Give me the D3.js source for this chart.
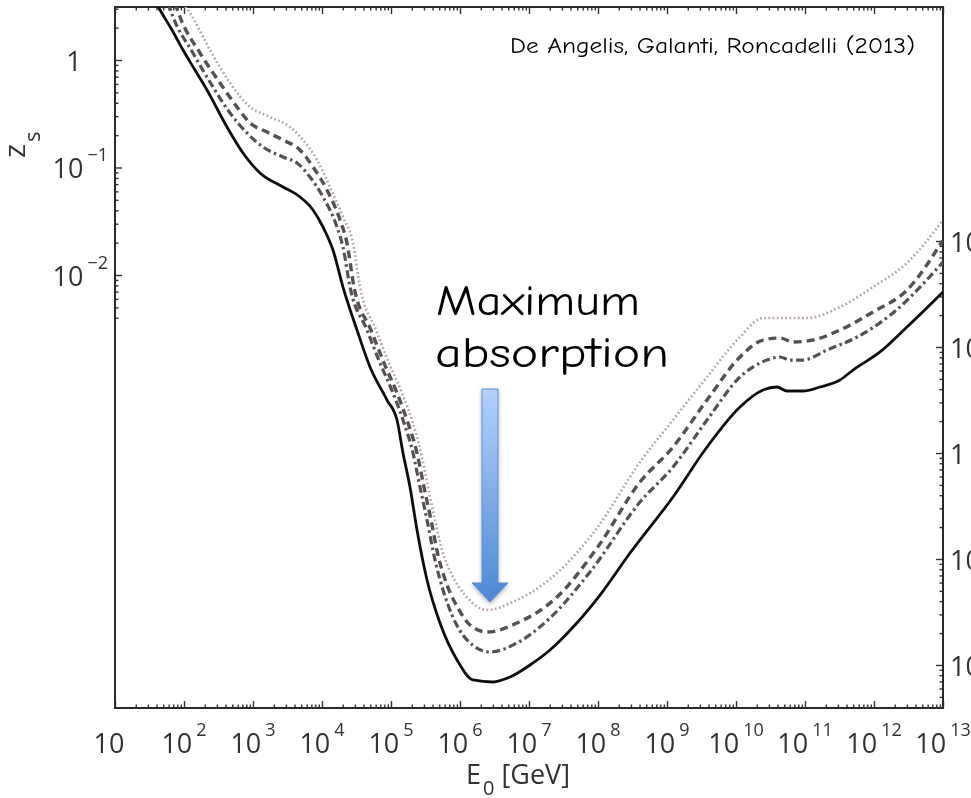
<!DOCTYPE html>
<html>
<head>
<meta charset="utf-8">
<script src="https://cdn.jsdelivr.net/npm/d3@7"></script>
<style>
  html, body { margin: 0; padding: 0; background: #fff; overflow: hidden; }
  svg { display: block; }
</style>
</head>
<body>
<svg id="chart" width="971" height="798"></svg>
<script>
// Each curve point is [log10(E0 / GeV), log10(z_s)]
const solidCurve = [
  [1.594,0.530],[1.652,0.465],[1.826,0.279],[1.986,0.093],[2.159,-0.093],[2.333,-0.279],
  [2.623,-0.623],[2.855,-0.865],[3.101,-1.051],[3.435,-1.181],[3.681,-1.274],[3.870,-1.395],
  [4.014,-1.553],[4.159,-1.767],[4.304,-2.112],[4.507,-2.512],[4.696,-2.856],[4.942,-3.163],
  [5.087,-3.349],[5.174,-3.656],[5.275,-3.972],[5.377,-4.372],[5.522,-4.837],[5.710,-5.237],
  [5.957,-5.581],[6.188,-5.767],[6.478,-5.786],[6.725,-5.740],[7.014,-5.628],[7.304,-5.488],
  [7.667,-5.256],[8.029,-4.977],[8.464,-4.586],[9.087,-4.065],[9.580,-3.600],[10.058,-3.228],
  [10.391,-3.070],[10.594,-3.042],[10.739,-3.079],[10.971,-3.079],[11.217,-3.042],[11.507,-2.977],
  [11.696,-2.884],[12.087,-2.716],[12.478,-2.484],[13.0,-2.158]
];
const dashDotCurve = [
  [1.768,0.530],[1.841,0.400],[2.130,0.065],[2.420,-0.251],[2.667,-0.493],[2.913,-0.679],
  [3.145,-0.809],[3.435,-0.902],[3.638,-0.958],[3.826,-1.088],[4.014,-1.274],[4.217,-1.553],
  [4.304,-1.740],[4.406,-2.112],[4.652,-2.512],[4.841,-2.819],[5.029,-3.098],[5.174,-3.349],
  [5.319,-3.656],[5.420,-3.972],[5.522,-4.279],[5.638,-4.651],[5.754,-4.930],[5.884,-5.163],
  [6.101,-5.395],[6.435,-5.507],[6.826,-5.423],[7.304,-5.191],[7.884,-4.763],[8.609,-4.112],
  [9.087,-3.786],[9.580,-3.349],[10.058,-2.949],[10.449,-2.791],[10.638,-2.763],[10.783,-2.791],
  [10.971,-2.791],[11.319,-2.698],[11.754,-2.577],[12.275,-2.353],[13.0,-1.879]
];
const dashedCurve = [
  [1.870,0.530],[1.942,0.400],[2.232,0.065],[2.522,-0.214],[2.768,-0.437],[2.957,-0.586],
  [3.203,-0.670],[3.435,-0.744],[3.681,-0.837],[3.870,-0.995],[4.072,-1.209],[4.261,-1.488],
  [4.362,-1.702],[4.464,-2.112],[4.710,-2.512],[4.899,-2.819],[5.087,-3.098],[5.232,-3.349],
  [5.377,-3.656],[5.478,-3.972],[5.580,-4.279],[5.681,-4.605],[5.812,-4.884],[5.971,-5.098],
  [6.145,-5.256],[6.391,-5.321],[6.826,-5.237],[7.406,-4.995],[7.986,-4.540],[8.609,-3.926],
  [9.087,-3.600],[9.580,-3.163],[10.058,-2.763],[10.391,-2.605],[10.638,-2.586],[10.826,-2.623],
  [11.116,-2.605],[11.507,-2.512],[11.986,-2.344],[12.478,-2.140],[13.0,-1.674]
];
const dottedCurve = [
  [1.986,0.530],[2.087,0.437],[2.377,0.093],[2.667,-0.214],[2.957,-0.437],[3.246,-0.530],
  [3.536,-0.623],[3.725,-0.744],[3.928,-0.930],[4.116,-1.181],[4.304,-1.460],[4.449,-1.702],
  [4.551,-2.112],[4.783,-2.512],[4.971,-2.819],[5.159,-3.098],[5.304,-3.349],[5.435,-3.656],
  [5.536,-3.972],[5.638,-4.279],[5.739,-4.558],[5.884,-4.791],[6.072,-4.977],[6.391,-5.116],
  [6.826,-5.023],[7.406,-4.772],[7.986,-4.353],[8.609,-3.740],[9.087,-3.349],[9.580,-2.949],
  [10.058,-2.577],[10.391,-2.400],[11.029,-2.400],[11.507,-2.298],[11.986,-2.112],[12.478,-1.888],
  [13.0,-1.488]
];

// Axis ranges and tick labels
const energyDomain = [10, 1e13];
const zDomain = [Math.pow(10, -6.028), Math.pow(10, 0.493)];
const distDomain = [Math.pow(10, -2.406), Math.pow(10, 4.208)];
const energyTickExps = [1,2,3,4,5,6,7,8,9,10,11,12,13];
const zTickExps = [0, -1, -2];
const zMinorRange = [4e-3, 3];
const distTickExps = [2, 1, 0, -1, -2];
const distMinorRange = [4e-3, 100];

(function draw() {
  const svg = d3.select("#chart");
  const pL = 115, pR = 943, pT = 7, pB = 708;

  const x = d3.scaleLog().domain(energyDomain).range([pL, pR]);
  const y = d3.scaleLog().domain(zDomain).range([pB, pT]);
  const yR = d3.scaleLog().domain(distDomain).range([pB, pT]);

  const defs = svg.append("defs");
  defs.append("clipPath").attr("id", "plotClip")
    .append("rect").attr("x", pL).attr("y", pT).attr("width", pR - pL).attr("height", pB - pT);
  defs.append("filter").attr("id", "soft").attr("x", "-5%").attr("y", "-5%").attr("width", "110%").attr("height", "110%")
    .append("feGaussianBlur").attr("stdDeviation", 0.5);
  const grad = defs.append("linearGradient").attr("id", "arrowGrad")
    .attr("x1", 0).attr("y1", 0).attr("x2", 0).attr("y2", 1);
  grad.append("stop").attr("offset", "0%").attr("stop-color", "#b3d1fb");
  grad.append("stop").attr("offset", "100%").attr("stop-color", "#4d88d4");
  const shadow = defs.append("filter").attr("id", "arrowShadow")
    .attr("x", "-50%").attr("y", "-20%").attr("width", "200%").attr("height", "140%");
  shadow.append("feDropShadow").attr("dx", 0).attr("dy", 2).attr("stdDeviation", 2)
    .attr("flood-color", "#000").attr("flood-opacity", 0.3);

  const fig = svg.append("g").attr("filter", "url(#soft)");

  // minor tick values for a log range
  function minorTicks(lo, hi) {
    const out = [];
    for (let d = Math.floor(Math.log10(lo)) - 1; d <= Math.ceil(Math.log10(hi)); d++) {
      for (let k = 2; k <= 9; k++) {
        const v = k * Math.pow(10, d);
        if (v >= lo * 0.999 && v <= hi * 1.001) out.push(v);
      }
    }
    return out;
  }

  const energyMajors = energyTickExps.map(e => Math.pow(10, e));
  const energyMinors = minorTicks(10, 1e13);
  const zMajors = zTickExps.map(e => Math.pow(10, e));
  const zMinors = minorTicks(zMinorRange[0], zMinorRange[1]);
  const distMajors = distTickExps.map(e => Math.pow(10, e));
  const distMinors = minorTicks(distMinorRange[0], distMinorRange[1]);

  function styleAxis(g) {
    g.select(".domain").remove();
    g.selectAll("line").attr("stroke", "#333").attr("stroke-width", 1.4);
    g.selectAll("text").remove();
  }

  // bottom and top ticks
  fig.append("g").attr("transform", `translate(0,${pB})`)
    .call(d3.axisBottom(x).tickValues(energyMajors).tickSize(-7).tickFormat("")).call(styleAxis);
  fig.append("g").attr("transform", `translate(0,${pB})`)
    .call(d3.axisBottom(x).tickValues(energyMinors).tickSize(-3.5).tickFormat("")).call(styleAxis);
  fig.append("g").attr("transform", `translate(0,${pT})`)
    .call(d3.axisTop(x).tickValues(energyMajors).tickSize(-7).tickFormat("")).call(styleAxis);
  fig.append("g").attr("transform", `translate(0,${pT})`)
    .call(d3.axisTop(x).tickValues(energyMinors).tickSize(-3.5).tickFormat("")).call(styleAxis);
  // left (z_s) ticks
  fig.append("g").attr("transform", `translate(${pL},0)`)
    .call(d3.axisLeft(y).tickValues(zMajors).tickSize(-7).tickFormat("")).call(styleAxis);
  fig.append("g").attr("transform", `translate(${pL},0)`)
    .call(d3.axisLeft(y).tickValues(zMinors).tickSize(-3.5).tickFormat("")).call(styleAxis);
  // right (distance) ticks
  fig.append("g").attr("transform", `translate(${pR},0)`)
    .call(d3.axisRight(yR).tickValues(distMajors).tickSize(-7).tickFormat("")).call(styleAxis);
  fig.append("g").attr("transform", `translate(${pR},0)`)
    .call(d3.axisRight(yR).tickValues(distMinors).tickSize(-3.5).tickFormat("")).call(styleAxis);

  // frame
  fig.append("rect").attr("x", pL).attr("y", pT).attr("width", pR - pL).attr("height", pB - pT)
    .attr("fill", "none").attr("stroke", "#2a2a2a").attr("stroke-width", 2);

  // curves
  const line = d3.line()
    .x(d => x(Math.pow(10, d[0])))
    .y(d => y(Math.pow(10, d[1])))
    .curve(d3.curveMonotoneX);
  const curves = fig.append("g").attr("clip-path", "url(#plotClip)").attr("fill", "none");
  curves.append("path").datum(dottedCurve).attr("d", line)
    .attr("stroke", "#bba9a9").attr("stroke-width", 2.7).attr("stroke-dasharray", "1.8,2.4");
  curves.append("path").datum(dashedCurve).attr("d", line)
    .attr("stroke", "#575151").attr("stroke-width", 3.4).attr("stroke-dasharray", "8,5");
  curves.append("path").datum(dashDotCurve).attr("d", line)
    .attr("stroke", "#575151").attr("stroke-width", 3.2).attr("stroke-dasharray", "8,3.5,2.5,3.5");
  curves.append("path").datum(solidCurve).attr("d", line)
    .attr("stroke", "#111").attr("stroke-width", 2.8).attr("stroke-linejoin", "round");

  // tick labels
  const labelFont = "'Open Sans', 'Noto Sans', sans-serif";
  function powerLabel(sel, e) {
    if (e === 0) { sel.text("1"); return; }
    sel.append("tspan").text("10");
    if (e !== 1) {
      sel.append("tspan").attr("dx", 4).attr("dy", -17).attr("font-size", 18)
        .text(String(e).replace("-", "\u2212"));
    }
  }
  const xLabels = fig.append("g").attr("font-family", labelFont).attr("font-size", 27).attr("fill", "#333");
  energyTickExps.forEach(e => {
    const t = xLabels.append("text")
      .attr("x", x(Math.pow(10, e)) + (e === 1 ? -6 : 0))
      .attr("y", 753).attr("text-anchor", "middle");
    powerLabel(t, e);
  });
  const yLabels = fig.append("g").attr("font-family", labelFont).attr("font-size", 27).attr("fill", "#333");
  zTickExps.forEach(e => {
    const t = yLabels.append("text")
      .attr("x", e === 0 ? 74 : 108)
      .attr("y", y(Math.pow(10, e)) + 11)
      .attr("text-anchor", e === 0 ? "middle" : "end");
    powerLabel(t, e);
  });
  const rLabels = fig.append("g").attr("font-family", labelFont).attr("font-size", 27).attr("fill", "#333");
  distTickExps.forEach(e => {
    const t = rLabels.append("text")
      .attr("x", 950).attr("y", yR(Math.pow(10, e)) + 11).attr("text-anchor", "start");
    powerLabel(t, e);
  });

  // axis titles
  const yTitle = fig.append("text").attr("transform", "translate(25,158) rotate(-90)")
    .attr("font-family", labelFont).attr("font-size", 30).attr("fill", "#333");
  yTitle.append("tspan").text("z");
  yTitle.append("tspan").attr("dx", 2).attr("dy", 15).attr("font-size", 22).text("s");

  const xTitle = fig.append("text").attr("x", 466).attr("y", 784)
    .attr("font-family", labelFont).attr("font-size", 27).attr("fill", "#333");
  xTitle.append("tspan").text("E");
  xTitle.append("tspan").attr("dx", 2).attr("dy", 11).attr("font-size", 20).text("0");
  xTitle.append("tspan").attr("dy", -11).text(" [GeV]");

  // annotations
  const handFont = "'Comic Sans MS', 'Comic Neue', 'DejaVu Sans', sans-serif";
  svg.append("text").attr("x", 510).attr("y", 53)
    .attr("font-family", handFont).attr("font-size", 22).attr("fill", "#000")
    .attr("textLength", 405).attr("lengthAdjust", "spacingAndGlyphs")
    .text("De Angelis, Galanti, Roncadelli (2013)");
  svg.append("text").attr("x", 436).attr("y", 315)
    .attr("font-family", handFont).attr("font-size", 42).attr("fill", "#000")
    .attr("textLength", 204).attr("lengthAdjust", "spacingAndGlyphs")
    .text("Maximum");
  svg.append("text").attr("x", 435).attr("y", 367)
    .attr("font-family", handFont).attr("font-size", 42).attr("fill", "#000")
    .attr("textLength", 234).attr("lengthAdjust", "spacingAndGlyphs")
    .text("absorption");

  // arrow pointing at the minimum
  const arrow = svg.append("g").attr("filter", "url(#arrowShadow)");
  arrow.append("path")
    .attr("d", "M482,389 L498,389 L498,583 L508,583 L490,602 L472,583 L482,583 Z")
    .attr("fill", "url(#arrowGrad)").attr("stroke", "#5b8fd0").attr("stroke-width", 1);
})();
</script>
</body>
</html>
